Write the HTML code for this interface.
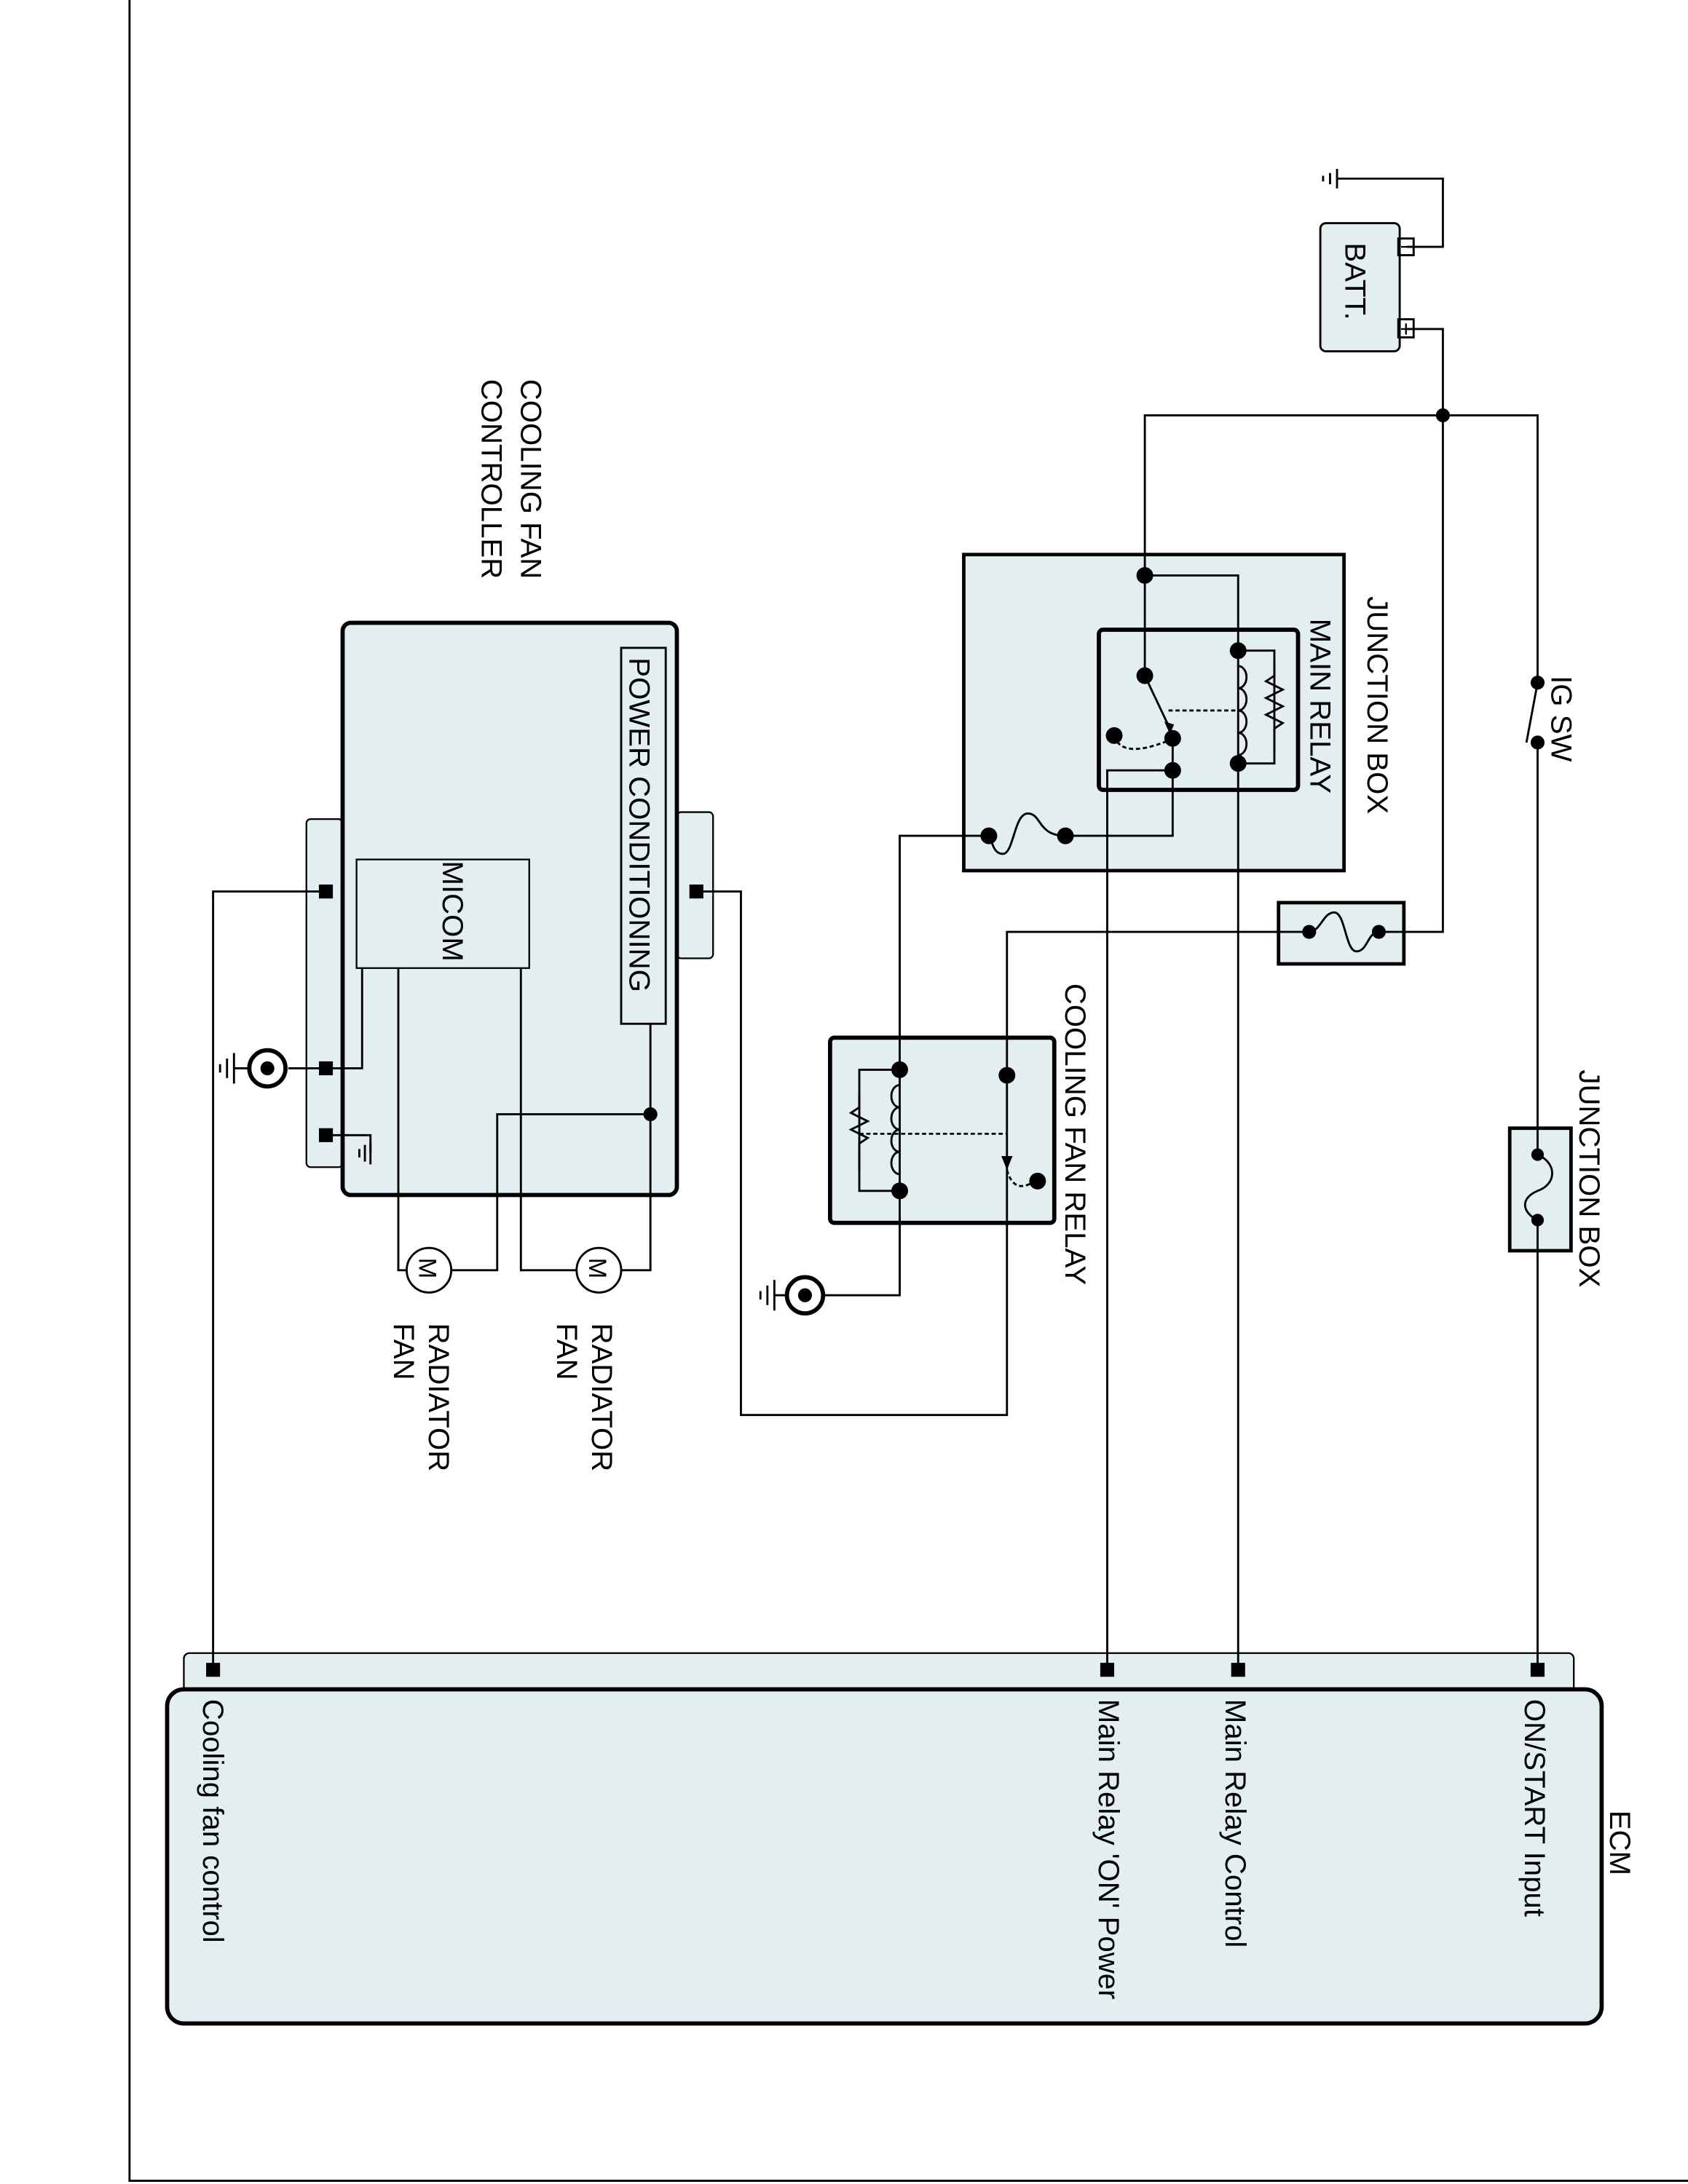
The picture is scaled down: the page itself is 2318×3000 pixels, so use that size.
<!DOCTYPE html>
<html><head><meta charset="utf-8"><style>html,body{margin:0;padding:0;background:#fff}svg{display:block}</style></head>
<body>
<svg width="2318" height="3000" viewBox="0 0 1212 1568" xmlns="http://www.w3.org/2000/svg" font-family="Liberation Sans, sans-serif" font-size="21">
<rect width="1212" height="1568" fill="#fff"/>
<rect x="93" y="-5" width="1130" height="1571" fill="none" stroke="#000" stroke-width="1.5"/>
<g fill="#e3eef0" stroke="#000">
<rect x="132" y="1187" width="998" height="30" rx="4" stroke-width="1.2"/>
<rect x="120" y="1213" width="1030" height="240" rx="12" stroke-width="3"/>
<rect x="1084" y="810" width="44" height="88" stroke-width="2.5"/>
<rect x="918" y="648" width="90" height="44" stroke-width="2.5"/>
<rect x="948" y="160" width="57" height="92" rx="4" stroke-width="1.5"/>
<rect x="692" y="398" width="273" height="227" stroke-width="2.5"/>
<rect x="789" y="452" width="143" height="115" rx="3" stroke-width="3"/>
<rect x="596" y="745" width="161" height="133" rx="3" stroke-width="3"/>
<rect x="486" y="583" width="26" height="105" rx="3" stroke-width="1.2"/>
<rect x="220" y="588" width="26" height="250" rx="3" stroke-width="1.2"/>
<rect x="246" y="447" width="240" height="411" rx="6" stroke-width="3"/>
<rect x="446" y="465" width="32" height="270" stroke-width="1.5"/>
<rect x="256" y="617" width="124" height="78" stroke-width="1.2"/>
</g>
<g fill="none" stroke="#000" stroke-width="1.5">
<polyline points="1104,1199 1104,876"/>
<polyline points="1104,829 1104,533"/>
<polyline points="1104,490 1104,298 822,298 822,485"/>
<line x1="1104" y1="490" x2="1096" y2="533"/>
<polyline points="1010,236 1036,236 1036,669 990,669"/>
<polyline points="1010,177 1036,177 1036,128 960,128"/>
<polyline points="822,413 889,413 889,1199"/>
<polyline points="889,467 915,467 915,548 889,548"/>
<polyline points="915,475 915,485 909,489 921,495 909,501 921,507 909,513 921,519 915,523 915,540"/>
<path d="M889,478 a6,8 0 0 1 0,16 a6,8 0 0 1 0,16 a6,8 0 0 1 0,16 a6,8 0 0 1 0,16"/>
<line x1="822" y1="485" x2="840" y2="523"/>
<line x1="839" y1="510" x2="889" y2="510" stroke-dasharray="3,2"/>
<path d="M800,528 Q805,545 838,532" stroke-dasharray="3,2"/>
<polyline points="842,530 842,600 765,600"/>
<polyline points="842,553 795,553 795,1199"/>
<path d="M765,600 C745,600 748,584 738,584 C728,584 728,613 720,613 C712,613 712,600 710,600"/>
<polyline points="710,600 646,600 646,930 590,930"/>
<path d="M940,669 C948,669 950,655 958,655 C966,655 966,683 974,683 C982,683 982,669 990,669"/>
<polyline points="940,669 723,669 723,1016 532,1016 532,640 500,640"/>
<path d="M1104,829 C1118,835 1118,850 1104,855 C1092,860 1092,870 1104,876"/>
<polyline points="646,768 617,768 617,855 646,855"/>
<polyline points="617,785 617,795 611,799 623,805 611,811 623,817 617,821 617,840"/>
<path d="M646,779 a6,8 0 0 0 0,16 a6,8 0 0 0 0,16 a6,8 0 0 0 0,16 a6,8 0 0 0 0,16"/>
<line x1="617" y1="814" x2="723" y2="814" stroke-dasharray="3,2"/>
<path d="M723,840 Q728,858 743,848" stroke-dasharray="3,2"/>
<polyline points="234,640 153,640 153,1199"/>
<polyline points="234,767 260,767 260,695"/>
<polyline points="467,735 467,912 446,912"/>
<polyline points="414,912 374,912 374,695"/>
<polyline points="467,800 357,800 357,912 324,912"/>
<polyline points="292,912 286,912 286,695"/>
<polyline points="234,767 207,767"/>
<polyline points="234,815 266,815 266,828"/>
<circle cx="430" cy="912" r="16"/>
<circle cx="308" cy="912" r="16"/>
<circle cx="192" cy="767" r="13" stroke-width="3"/>
<circle cx="578" cy="930" r="13" stroke-width="3"/>
<g stroke-width="1.5">
<line x1="179" y1="767" x2="168" y2="767"/><line x1="168" y1="756" x2="168" y2="778"/><line x1="163" y1="760" x2="163" y2="774"/><line x1="158" y1="764" x2="158" y2="770"/>
<line x1="565" y1="930" x2="556" y2="930"/><line x1="556" y1="919" x2="556" y2="941"/><line x1="551" y1="923" x2="551" y2="937"/><line x1="546" y1="927" x2="546" y2="933"/>
<line x1="960" y1="121" x2="960" y2="135"/><line x1="955" y1="124" x2="955" y2="132"/><line x1="950" y1="126" x2="950" y2="130"/>
<line x1="266" y1="820" x2="266" y2="836"/><line x1="262" y1="822" x2="262" y2="834"/><line x1="258" y1="825" x2="258" y2="831"/>
</g>
<rect x="1004" y="171" width="11" height="12" stroke-width="1.5"/>
<rect x="1004" y="229" width="11" height="13" stroke-width="1.5"/>
<line x1="1006" y1="177" x2="1013" y2="177" stroke-width="1.2"/>
<line x1="1006" y1="236" x2="1013" y2="236" stroke-width="1.2"/><line x1="1009.5" y1="232" x2="1009.5" y2="240" stroke-width="1.2"/>
</g>
<g fill="#000">
<circle cx="1036" cy="298" r="5"/>
<circle cx="1104" cy="490" r="5"/><circle cx="1104" cy="533" r="5"/>
<circle cx="1104" cy="829" r="4.5"/><circle cx="1104" cy="876" r="4.5"/>
<circle cx="990" cy="669" r="5"/><circle cx="940" cy="669" r="5"/>
<circle cx="822" cy="413" r="6"/><circle cx="822" cy="485" r="6"/>
<circle cx="889" cy="467" r="6"/><circle cx="889" cy="548" r="6"/>
<circle cx="842" cy="530" r="6"/><circle cx="800" cy="528" r="6"/><circle cx="842" cy="553" r="6"/>
<circle cx="765" cy="600" r="6"/><circle cx="710" cy="600" r="6"/>
<circle cx="646" cy="768" r="6"/><circle cx="646" cy="855" r="6"/>
<circle cx="723" cy="772" r="6"/><circle cx="745" cy="848" r="6"/>
<circle cx="467" cy="800" r="5"/>
<circle cx="192" cy="767" r="5"/><circle cx="578" cy="930" r="5"/>
<polygon points="836,518 843,520 840,527"/>
<polygon points="719,830 727,830 723,840"/>
<rect x="148" y="1194" width="10" height="10"/><rect x="790" y="1194" width="10" height="10"/><rect x="884" y="1194" width="10" height="10"/><rect x="1099" y="1194" width="10" height="10"/>
<rect x="495" y="635" width="10" height="10"/><rect x="229" y="635" width="10" height="10"/><rect x="229" y="762" width="10" height="10"/><rect x="229" y="810" width="10" height="10"/>
</g>
<g fill="#000">
<text transform="translate(1156,1300) rotate(90)">ECM</text>
<text transform="translate(1095,1220) rotate(90)">ON/START Input</text>
<text transform="translate(880,1220) rotate(90)">Main Relay Control</text>
<text transform="translate(789,1220) rotate(90)">Main Relay 'ON' Power</text>
<text transform="translate(146,1220) rotate(90)">Cooling fan control</text>
<text transform="translate(1134,768) rotate(90)">JUNCTION BOX</text>
<text transform="translate(1114,485) rotate(90)">IG SW</text>
<text transform="translate(982,428) rotate(90)">JUNCTION BOX</text>
<text transform="translate(941,444) rotate(90)">MAIN RELAY</text>
<text transform="translate(765,706) rotate(90)">COOLING FAN RELAY</text>
<text transform="translate(966,174) rotate(90)">BATT.</text>
<text transform="translate(452,472) rotate(90)">POWER CONDITIONING</text>
<text transform="translate(318,618) rotate(90)">MICOM</text>
<text transform="translate(374,272) rotate(90)">COOLING FAN</text>
<text transform="translate(346,272) rotate(90)">CONTROLLER</text>
<text transform="translate(425,950) rotate(90)">RADIATOR</text>
<text transform="translate(400,950) rotate(90)">FAN</text>
<text transform="translate(308,950) rotate(90)">RADIATOR</text>
<text transform="translate(283,950) rotate(90)">FAN</text>
<text transform="translate(423,903) rotate(90)" font-size="18">M</text>
<text transform="translate(301,903) rotate(90)" font-size="18">M</text>
</g>
</svg>
</body></html>
